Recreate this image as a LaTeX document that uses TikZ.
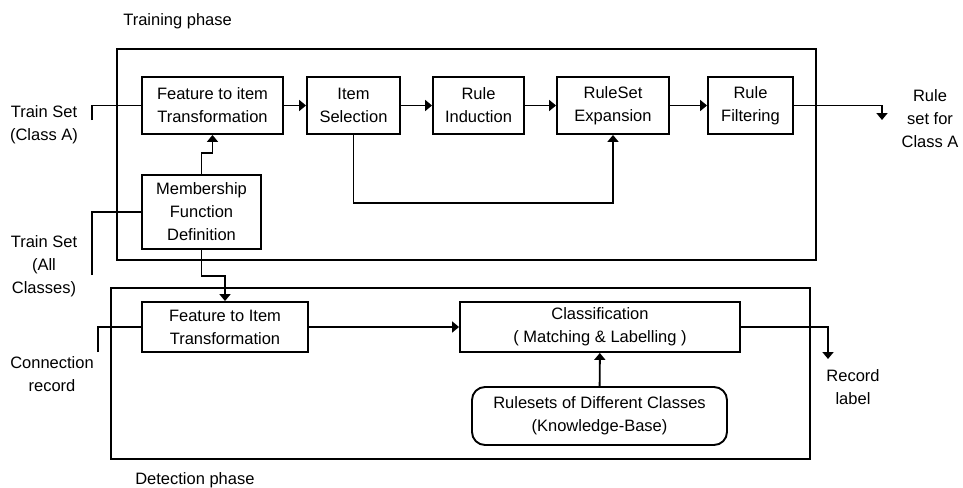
\documentclass[tikz,border=0pt]{standalone}
\usepackage{fontspec}
\setmainfont{Liberation Sans}
\usepackage{tikz}
\usetikzlibrary{calc}
\usetikzlibrary{arrows.meta}
\usetikzlibrary{positioning}

\begin{document}
\begin{tikzpicture}[x=1pt, y=-1pt, line width=1.9pt,
        every node/.style={font=\fontsize{16.5}{23}\selectfont, align=center},
        block/.style={draw, rectangle, inner sep=0pt},
        kbblock/.style={draw, rectangle, rounded corners=13pt, inner sep=0pt},
        arr/.style={-{Triangle[length=7pt, width=11pt]}}]
            \useasboundingbox (0, 0) rectangle (963, 487);
            % Training phase frame
            \draw (117, 49) rectangle (816, 260);
            \node[anchor=west] (trainlbl) at (119, 21) {Training phase};
            % Training blocks
            \node[block, minimum width=141, minimum height=57] (feat) at (212.5, 105.5) {Feature to item\\Transformation};
            \node[block, minimum width=93,  minimum height=57] (isel) at (353.5, 105.5) {Item\\Selection};
            \node[block, minimum width=91,  minimum height=57] (rind) at (478.5, 105.5) {Rule\\Induction};
            \node[block, minimum width=112, minimum height=57] (rexp) at (613.0, 105.5) {RuleSet\\Expansion};
            \node[block, minimum width=85,  minimum height=57] (rfil) at (750.5, 105.5) {Rule\\Filtering};
            \node[block, minimum width=119, minimum height=74] (memb) at (201.5, 212.0) {Membership\\Function\\Definition};
            % Inputs & output of training
            \node (trainA)   at (44, 125) {Train Set\\(Class A)};
            \node (trainAll) at (44, 266) {Train Set\\(All\\Classes)};
            \node (ruleA)    at (930, 119) {Rule\\set for\\Class A};
            \coordinate (inA)   at (92, 120);
            \coordinate (inAll) at (92, 275);
            \coordinate (outA)  at (882, 120);
            \draw (inA) |- (feat.west);
            \draw (inAll) |- (memb.west);
            \draw[arr] (feat) -- (isel);
            \draw[arr] (isel) -- (rind);
            \draw[arr] (rind) -- (rexp);
            \draw[arr] (rexp) -- (rfil);
            \draw[arr] (rfil.east) -| (outA);
            \draw[arr] (memb.north) -- ++(0, -21) -| (feat.south);
            \draw[arr] (isel.south) -- ++(0, 68) -| (rexp.south);
            % Detection phase frame
            \draw (111, 288) rectangle (810, 459);
            \node[anchor=west] (detlbl) at (131, 480) {Detection phase};
            % Detection blocks
            \node[block, minimum width=166, minimum height=50] (dfeat) at (225, 327) {Feature to Item\\Transformation};
            \node[block, minimum width=280, minimum height=50] (clas)  at (600, 327) {Classification\\( Matching \& Labelling )};
            \node[kbblock, minimum width=255, minimum height=58] (kb)  at (599.5, 416) {Rulesets of Different Classes\\(Knowledge-Base)};
            % Inputs & output of detection
            \node (conn)   at (52, 374) {Connection\\record};
            \node (reclbl) at (853, 387) {Record\\label};
            \coordinate (inC)    at (98, 352);
            \coordinate (recout) at (828, 359);
            \draw (inC) |- (dfeat.west);
            \draw[arr] (memb.south) -- ++(0, 26) -| (dfeat.north);
            \draw[arr] (dfeat) -- (clas);
            \draw[arr] (kb) -- (clas);
            \draw[arr] (clas.east) -| (recout);
        \end{tikzpicture}
\end{document}
